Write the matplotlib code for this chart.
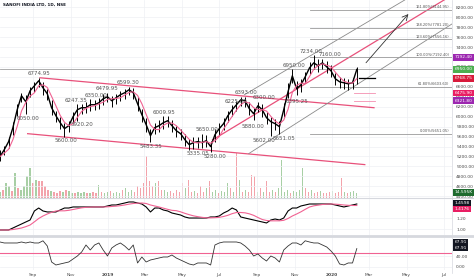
import numpy as np
import pandas as pd
import matplotlib
matplotlib.use('Agg')
import matplotlib.pyplot as plt
import matplotlib.dates as mdates
from matplotlib.lines import Line2D

title = 'SANOFI INDIA LTD, 1D, NSE'

# weekly bars (start 2018-07-09)
week0 = '2018-07-09'
close = [5197, 5337, 5498, 5779, 6140, 6421, 6300, 6521, 6621, 6722,
         6581, 6461, 6180, 6019, 5879, 5759, 5819, 6000, 6140, 6180,
         6180, 6240, 6240, 6280, 6360, 6401, 6320, 6380, 6441, 6481,
         6541, 6481, 6260, 6040, 5839, 5618, 5779, 5819, 5879, 5919,
         5819, 5719, 5658, 5538, 5438, 5478, 5498, 5478, 5518, 5398,
         5638, 5759, 5859, 6019, 6140, 6240, 6340, 6320, 6160, 6060,
         6220, 6140, 5979, 5899, 5859, 5799, 6140, 6501, 6822, 6561,
         6641, 6802, 6982, 7083, 7022, 7083, 7002, 6922, 6762, 6701,
         6681, 6661, 6681, 6950]
high = [5330, 5420, 5600, 5900, 6250, 6480, 6430, 6600, 6700, 6775,
        6700, 6560, 6330, 6120, 6000, 5880, 5920, 6100, 6247, 6260,
        6300, 6350, 6330, 6380, 6450, 6480, 6420, 6460, 6520, 6560,
        6599, 6580, 6400, 6150, 5980, 5760, 5880, 5930, 6010, 6005,
        5930, 5820, 5760, 5660, 5560, 5590, 5600, 5650, 5640, 5520,
        5760, 5870, 5970, 6120, 6225, 6320, 6393, 6390, 6300, 6180,
        6300, 6260, 6090, 6000, 5960, 5920, 6280, 6680, 6950, 6720,
        6760, 6900, 7100, 7234, 7150, 7160, 7110, 7040, 6880, 6800,
        6780, 6760, 6770, 7000]
low = [5100, 5220, 5380, 5640, 6010, 6300, 6050, 6390, 6500, 6600,
       6440, 6330, 6040, 5900, 5760, 5600, 5700, 5880, 5920, 6060,
       6070, 6120, 6130, 6160, 6230, 6290, 6200, 6260, 6320, 6360,
       6430, 6360, 6120, 5900, 5700, 5483, 5650, 5700, 5760, 5800,
       5700, 5600, 5540, 5420, 5335, 5360, 5380, 5370, 5400, 5280,
       5500, 5640, 5740, 5900, 6020, 6120, 6220, 6200, 6040, 5940,
       6100, 6000, 5850, 5602, 5740, 5651, 5990, 6380, 6680, 6440,
       6500, 6680, 6860, 6960, 6900, 6960, 6880, 6800, 6640, 6580,
       6560, 6540, 6560, 6660]

# ratio indicator (middle pane)
ratio = [0.987, 0.987, 0.987, 1.023, 1.060, 1.096, 1.133, 1.169, 1.333, 1.387,
         1.333, 1.315, 1.315, 1.315, 1.351, 1.387, 1.387, 1.406, 1.406, 1.406,
         1.406, 1.406, 1.406, 1.406, 1.406, 1.424, 1.442, 1.442, 1.460, 1.478,
         1.497, 1.497, 1.478, 1.460, 1.406, 1.315, 1.387, 1.387, 1.351, 1.333,
         1.296, 1.278, 1.260, 1.224, 1.205, 1.205, 1.205, 1.205, 1.205, 1.224,
         1.224, 1.242, 1.296, 1.333, 1.387, 1.351, 1.224, 1.205, 1.187, 1.169,
         1.151, 1.133, 1.115, 1.169, 1.187, 1.169, 1.205, 1.333, 1.387, 1.387,
         1.424, 1.442, 1.460, 1.460, 1.460, 1.460, 1.460, 1.460, 1.442, 1.424,
         1.406, 1.424, 1.442, 1.460]

# oscillator (bottom pane)
osc = [92.5, 88.8, 88.8, 88.8, 88.8, 92.5, 88.8, 92.5, 88.8, 88.8,
       97.0, 77.5, 17.6, 6.4, 10.1, 13.9, 17.6, 28.8, 40.1, 55.1,
       81.3, 62.5, 81.3, 88.8, 62.5, 40.1, 70.0, 81.3, 88.8, 77.5,
       62.5, 81.3, 13.9, 36.3, 17.6, 25.1, 28.8, 32.6, 36.3, 36.3,
       43.8, 32.6, 25.1, 17.6, 10.1, 6.4, 13.9, 13.9, 13.9, 6.4,
       81.3, 88.8, 92.5, 92.5, 92.5, 92.5, 88.8, 77.5, 62.5, 40.1,
       47.6, 32.6, 21.3, 40.1, 32.6, 17.6, 62.5, 77.5, 88.8, 88.8,
       81.3, 97.0, 92.5, 88.8, 88.8, 81.3, 73.8, 58.8, 40.1, 10.1,
       6.4, 13.9, 13.9, 67.91]

# volume, thousands
vol = [18, 24, 45, 36, 21, 75, 30, 24, 36, 66,
       90, 45, 54, 51, 51, 36, 24, 21, 18, 15,
       21, 18, 24, 21, 15, 15, 18, 15, 18, 15,
       15, 18, 15, 39, 18, 15, 18, 21, 15, 18,
       15, 24, 30, 18, 24, 18, 36, 30, 45, 126,
       51, 36, 45, 51, 24, 24, 18, 21, 15, 24,
       18, 45, 30, 54, 18, 21, 15, 36, 18, 30,
       51, 18, 24, 15, 21, 18, 45, 30, 18, 135,
       54, 18, 24, 18, 69, 66, 18, 30, 18, 51,
       18, 24, 18, 30, 114, 18, 24, 15, 21, 18,
       24, 90, 30, 18, 24, 15, 18, 21, 15, 15,
       18, 21, 15, 18, 60, 18, 15, 18, 21, 15]
vol_dir = ('grggrgrggg' 'grgrrrrgrr' 'rgrggrgggr' 'grrgrggrgg' 'grgggrrrrr'
           'rrgrrggrrr' 'rrgrrgrrrg' 'rggrgggrgr' 'grgrrrgrgr' 'rgrggggrgg'
           'ggrrgrrgrr' 'rgrrrgrggg')

# drawn trend lines: (date, price) pairs
desc_top = [('2018-09-12', 6782), ('2020-03-09', 6180)]
desc_bot = [('2018-08-23', 5658), ('2020-02-23', 5036)]
asc_mid = [('2019-06-20', 5532), ('2020-07-14', 8443)]
asc_low = [('2019-08-18', 5257), ('2020-07-14', 7865)]
asc_up = [('2019-08-11', 6441), ('2020-04-28', 8346)]
arrow = [('2020-02-22', 7042), ('2020-05-07', 8106)]

fib_lo, fib_hi = 5651.05, 7192.40
fib_pct = [0.0, 61.8, 100.0, 123.6, 138.2, 161.8]
fib_from = '2019-11-25'

# swing labels: text, date, side
swing = [('6774.95', '2018-09-10', 1), ('6050.00', '2018-08-23', -1),
         ('5600.00', '2018-10-24', -1), ('5920.20', '2018-11-19', -1),
         ('6247.35', '2018-11-09', 1), ('6350.00', '2018-12-12', 1),
         ('6479.95', '2018-12-30', 1), ('6599.30', '2019-02-02', 1),
         ('6009.95', '2019-04-02', 1), ('5483.35', '2019-03-12', -1),
         ('5650.00', '2019-06-11', 1), ('5335.05', '2019-05-28', -1),
         ('5280.00', '2019-06-24', -1), ('6225.00', '2019-07-28', 1),
         ('6393.00', '2019-08-13', 1), ('6300.00', '2019-09-12', 1),
         ('5880.00', '2019-08-25', -1), ('5602.00', '2019-09-11', -1),
         ('5651.05', '2019-10-15', -1), ('6395.25', '2019-11-04', -1),
         ('6950.00', '2019-10-30', 1), ('7234.00', '2019-11-27', 1),
         ('7160.00', '2019-12-28', 1)]

last_price = 6950.00
targets = [6475.90, 6321.80]
stop = 6768.75

months = ['2018-09-01', '2018-11-01', '2019-01-01', '2019-03-01', '2019-05-01',
          '2019-07-01', '2019-09-01', '2019-11-01', '2020-01-01', '2020-03-01',
          '2020-05-01', '2020-07-01']
month_lbl = ['Sep', 'Nov', '2019', 'Mar', 'May', 'Jul', 'Sep', 'Nov', '2020',
             'Mar', 'May', 'Jul']

dates = pd.date_range(week0, periods=len(close), freq='7D')
vdates = pd.date_range(week0, dates[-1], periods=len(vol))
ma = pd.Series(close).rolling(3, min_periods=1).mean()
ratio_ma = pd.Series(ratio).rolling(6, min_periods=1).mean()

W, H = 474, 279
fig = plt.figure(figsize=(W / 100, H / 100), dpi=100)
R = 452 / W
main = fig.add_axes([0, 1 - 197.5 / H, R, 197.5 / H])
mid = fig.add_axes([0, 1 - 235 / H, R, 36 / H])
bot = fig.add_axes([0, 1 - 270 / H, R, 33 / H])

# volume sits behind the price pane
vax = main.twinx()
vax.set_ylim(0, 594)
vax.set_yticks([])
for s in vax.spines.values():
    s.set_visible(False)
main.set_zorder(vax.get_zorder() + 1)
main.patch.set_visible(False)

x0, x1 = pd.Timestamp('2018-07-09'), pd.Timestamp('2020-07-14')
mticks = pd.to_datetime(months)
grid_c = '#eef0f4'
for ax in (main, mid, bot):
    ax.set_xlim(x0, x1)
    for s in ax.spines.values():
        s.set_visible(False)
    ax.yaxis.tick_right()
    ax.tick_params(length=0, labelsize=3.2, colors='#4a4a4a', pad=3)
    ax.set_xticks(mticks)
    ax.grid(True, color=grid_c, lw=0.5)
    ax.set_axisbelow(True)
vax.set_xlim(x0, x1)
main.set_xticklabels([])
mid.set_xticklabels([])
bot.set_xticklabels(month_lbl)
for t in bot.get_xticklabels():
    if t.get_text() in ('2019', '2020'):
        t.set_fontweight('bold')
bot.tick_params(axis='x', pad=2)

# ---- price pane
main.set_ylim(4374.6, 8346.4)
ticks = list(range(4400, 8201, 200))
main.set_yticks(ticks)
main.set_yticklabels([f'{t:.2f}' for t in ticks])

vcol = ['#a8cfa5' if c == 'g' else '#f3a3ab' for c in vol_dir]
vax.bar(vdates, vol, width=1.8, color=vcol, lw=0)

pink = '#e8507a'
gray = '#8a8a8a'
main.axhline(last_price, color='#a0a0a0', lw=0.6)

def seg(ax, pts, **kw):
    xs = [pd.Timestamp(p[0]) for p in pts]
    ys = [p[1] for p in pts]
    ax.plot(xs, ys, **kw)

seg(main, desc_top, color=pink, lw=0.9)
seg(main, desc_bot, color=pink, lw=0.9)
seg(main, asc_mid, color=pink, lw=0.9)
seg(main, asc_low, color=gray, lw=0.6)
seg(main, asc_up, color=gray, lw=0.6)
main.annotate('', xy=(pd.Timestamp(arrow[1][0]), arrow[1][1]),
              xytext=(pd.Timestamp(arrow[0][0]), arrow[0][1]),
              arrowprops=dict(arrowstyle='->', color='#333333', lw=0.6))

fstart = pd.Timestamp(fib_from)
for pct in fib_pct:
    lvl = fib_lo + (fib_hi - fib_lo) * pct / 100
    main.plot([fstart, x1], [lvl, lvl], color='#9a9a9a', lw=0.6)
    main.text(x1 - pd.Timedelta(days=4), lvl + 15, f'{pct:.2f}%({lvl:.2f})',
              ha='right', va='bottom', fontsize=2.6, color='#555555')

for tgt in targets:
    main.plot([pd.Timestamp('2020-02-05'), pd.Timestamp('2020-03-10')],
              [tgt, tgt], color='#f48fb1', lw=0.6)
main.plot([pd.Timestamp('2020-02-13'), pd.Timestamp('2020-03-10')],
          [stop, stop], color='black', lw=0.9)

main.vlines(dates, low, high, color='black', lw=0.7)
main.plot(dates, close, color='black', lw=1.0)
main.plot(dates, ma, color='#f06292', lw=0.8)

for txt, d, side in swing:
    v = float(txt)
    main.annotate(txt, (pd.Timestamp(d), v), xytext=(0, 1.2 * side),
                  textcoords='offset points', ha='center',
                  va='bottom' if side > 0 else 'top', fontsize=4, color='#555555')

def tag(ax, val, txt, fc, tc='white'):
    ax.text(1.006, val, txt, transform=ax.get_yaxis_transform(), fontsize=3.2,
            color=tc, va='center', ha='left', clip_on=False,
            bbox=dict(boxstyle='square,pad=0.3', fc=fc, ec='none'))

tag(main, fib_hi, '7192.40', '#9c27b0')
tag(main, last_price, '6950.00', '#4caf50')
tag(main, stop, '6768.75', '#d81b3c')
tag(main, 6475.90, '6475.90', '#e91e63')
tag(main, 6321.80, '6321.80', '#9c27b0')
tag(main, 4480, '14.595K', '#1e6b2e')

# ---- ratio pane
mid.set_ylim(0.896, 1.551)
mid.set_yticks([1.0, 1.2])
mid.set_yticklabels(['1.00', '1.20'])
mid.plot(dates, ratio, color='black', lw=0.8)
mid.plot(dates, ratio_ma, color='#f06292', lw=0.8)
tag(mid, 1.478, '1.4598', '#131722')
tag(mid, 1.369, '1.4176', '#e91e63')

# ---- oscillator pane
bot.set_ylim(-12.4, 111.2)
bot.set_yticks([0, 40])
bot.set_yticklabels(['0.00', '40.00'])
bot.axhline(50, color='#f06292', lw=0.8)
bot.plot(dates, osc, color='#333333', lw=0.6)
tag(bot, 92, '67.91', '#131722')
tag(bot, 70, '67.91', '#131722')

# pane separators and price scale border
for yy, lw in ((198, 0.8), (236, 2.0)):
    fig.add_artist(Line2D([0, 1], [1 - yy / H, 1 - yy / H], color='#d6d8de', lw=lw))
fig.add_artist(Line2D([R, R], [0.02, 1], color='#d6d8de', lw=0.5))

fig.text(3 / W, 1 - 5 / H, title, fontsize=3, fontweight='bold', color='#131722',
         va='center', ha='left')

fig.savefig('out.png', dpi=100, facecolor='white')
